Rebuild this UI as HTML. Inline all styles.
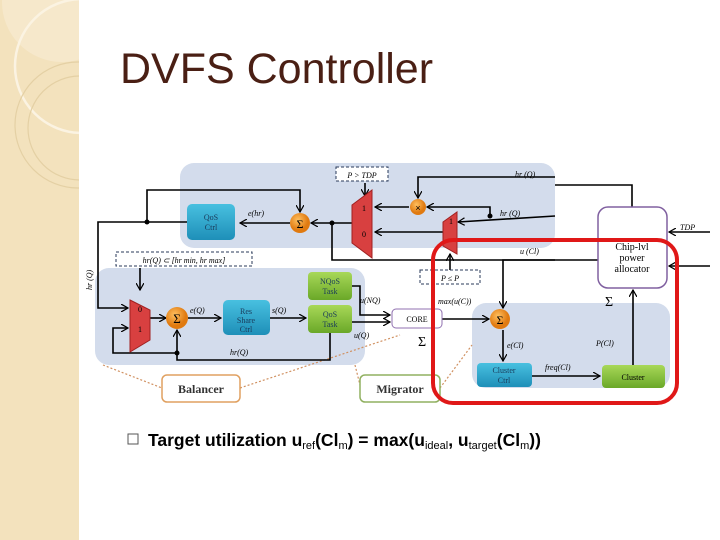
<!DOCTYPE html>
<html><head><meta charset="utf-8"><style>
html,body{margin:0;padding:0;background:#fff;}
#w{position:relative;width:720px;height:540px;overflow:hidden;background:#fff;font-family:"Liberation Sans",sans-serif;}
</style></head><body><div id="w">
<svg width="720" height="540" viewBox="0 0 720 540" xmlns="http://www.w3.org/2000/svg" style="position:absolute;left:0;top:0">
<defs>
<marker id="a" markerWidth="8" markerHeight="8" refX="7" refY="4" orient="auto" markerUnits="userSpaceOnUse"><path d="M0,0 L7,4 L0,8" fill="none" stroke="#000" stroke-width="1.2"/></marker>
<radialGradient id="og" cx="40%" cy="35%"><stop offset="0" stop-color="#ffc060"/><stop offset="1" stop-color="#e07a10"/></radialGradient>
<linearGradient id="bg" x1="0" y1="0" x2="0" y2="1"><stop offset="0" stop-color="#48c0e0"/><stop offset="1" stop-color="#1e8fb8"/></linearGradient>
<linearGradient id="gg" x1="0" y1="0" x2="0" y2="1"><stop offset="0" stop-color="#a8d858"/><stop offset="1" stop-color="#6aa828"/></linearGradient>
<clipPath id="band"><rect x="0" y="0" width="79" height="540"/></clipPath>
</defs>
<!-- left band -->
<rect x="0" y="0" width="79" height="540" fill="#f3e2bd"/>
<g clip-path="url(#band)">
<circle cx="62" cy="2" r="60" fill="#f6e8cb"/>
<circle cx="82" cy="66" r="67" fill="none" stroke="#fbf3e2" stroke-width="2.5"/>
<circle cx="78" cy="125" r="63" fill="none" stroke="#e4d0a4" stroke-width="1.2"/>
<circle cx="80" cy="128" r="52" fill="none" stroke="#e4d0a4" stroke-width="1.2"/>
</g>
<!-- title -->
<text x="120" y="83" font-size="43" fill="#4a1f14" font-family="Liberation Sans, sans-serif">DVFS Controller</text>
<!-- regions -->
<rect x="180" y="163" width="375" height="85" rx="14" fill="#d3dcec"/>
<rect x="95" y="268" width="270" height="97" rx="14" fill="#d3dcec"/>
<rect x="472" y="303" width="198" height="85" rx="14" fill="#d3dcec"/>
<!-- dotted connectors -->
<g stroke="#d09060" stroke-width="1.2" stroke-dasharray="2,2" fill="none">
<line x1="103" y1="365" x2="162" y2="388"/><line x1="240" y1="388" x2="400" y2="335"/>
<line x1="440" y1="388" x2="472" y2="345"/><line x1="355" y1="365" x2="360" y2="385"/>
</g>
<!-- wires -->
<g stroke="#000" stroke-width="1.6" fill="none">
<polyline points="187,222 98,222 98,308 128,308" marker-end="url(#a)"/>
<polyline points="147,222 147,190 300,190 300,212" marker-end="url(#a)"/>
<line x1="290" y1="223" x2="240" y2="223" marker-end="url(#a)"/>
<line x1="352" y1="223" x2="311" y2="223" marker-end="url(#a)"/>
<polyline points="332,223 332,260 555,260"/>
<line x1="365" y1="183" x2="365" y2="196" marker-end="url(#a)"/>
<polyline points="555,177 418,177 418,198" marker-end="url(#a)"/>
<line x1="555" y1="216" x2="458" y2="222" marker-end="url(#a)"/>
<polyline points="490,216 490,207 427,207" marker-end="url(#a)"/>
<polyline points="409,207 375,207" marker-end="url(#a)"/>
<line x1="443" y1="232" x2="375" y2="232" marker-end="url(#a)"/>
<polyline points="632,207 632,185 555,185"/>
<line x1="150" y1="318" x2="166" y2="318" marker-end="url(#a)"/>
<line x1="188" y1="318" x2="221" y2="318" marker-end="url(#a)"/>
<line x1="270" y1="318" x2="306" y2="318" marker-end="url(#a)"/>
<polyline points="330,333 330,360 177,360 177,330" marker-end="url(#a)"/>
<polyline points="177,353 113,353 113,328 128,328" marker-end="url(#a)"/>
<line x1="140" y1="268" x2="140" y2="290" marker-end="url(#a)"/>
<polyline points="352,286 360,286 360,315 390,315" marker-end="url(#a)"/>
<line x1="352" y1="322" x2="390" y2="322" marker-end="url(#a)"/>
<line x1="442" y1="319" x2="489" y2="319" marker-end="url(#a)"/>
<polyline points="598,260 503,260 503,308" marker-end="url(#a)"/>
<line x1="503" y1="330" x2="503" y2="361" marker-end="url(#a)"/>
<line x1="532" y1="376" x2="600" y2="376" marker-end="url(#a)"/>
<line x1="633" y1="365" x2="633" y2="290" marker-end="url(#a)"/>
<line x1="710" y1="232" x2="669" y2="232" marker-end="url(#a)"/>
<line x1="710" y1="266" x2="669" y2="266" marker-end="url(#a)"/>
<line x1="450" y1="270" x2="450" y2="254" marker-end="url(#a)"/>
</g>
<circle cx="147" cy="222" r="2.5"/><circle cx="332" cy="223" r="2.5"/><circle cx="490" cy="216" r="2.5"/><circle cx="177" cy="353" r="2.5"/>
<!-- mux -->
<polygon points="352,205 372,190 372,258 352,243" fill="#d84040" stroke="#a02020"/>
<polygon points="443,222 457,212 457,254 443,246" fill="#d84040" stroke="#a02020"/>
<polygon points="130,300 150,310 150,340 130,352" fill="#d84040" stroke="#a02020"/>
<g font-size="8" font-family="Liberation Serif, serif">
<text x="362" y="211">1</text><text x="362" y="237">0</text><text x="138" y="312">0</text><text x="138" y="332">1</text><text x="449" y="224">1</text>
</g>
<!-- circles -->
<circle cx="300" cy="223" r="10" fill="url(#og)"/><text x="300" y="228" font-size="12" text-anchor="middle" font-family="Liberation Serif,serif">Σ</text>
<circle cx="418" cy="207" r="8" fill="url(#og)"/><text x="418" y="211" font-size="9" text-anchor="middle">×</text>
<circle cx="177" cy="318" r="11" fill="url(#og)"/><text x="177" y="323" font-size="13" text-anchor="middle" font-family="Liberation Serif,serif">Σ</text>
<circle cx="500" cy="319" r="10" fill="url(#og)"/><text x="500" y="324" font-size="12" text-anchor="middle" font-family="Liberation Serif,serif">Σ</text>
<!-- boxes -->
<rect x="187" y="204" width="48" height="36" rx="5" fill="url(#bg)"/>
<rect x="223" y="300" width="47" height="35" rx="5" fill="url(#bg)"/>
<rect x="477" y="363" width="55" height="24" rx="4" fill="url(#bg)"/>
<rect x="308" y="272" width="44" height="28" rx="4" fill="url(#gg)"/>
<rect x="308" y="305" width="44" height="28" rx="4" fill="url(#gg)"/>
<rect x="602" y="365" width="63" height="23" rx="4" fill="url(#gg)"/>
<rect x="392" y="309" width="50" height="19" rx="4" fill="#fff" stroke="#9070b0"/>
<rect x="598" y="207" width="69" height="81" rx="10" fill="#fff" stroke="#8060a0" stroke-width="1.5"/>
<rect x="162" y="375" width="78" height="27" rx="5" fill="#fff" stroke="#e0a060" stroke-width="1.5"/>
<rect x="360" y="375" width="80" height="27" rx="5" fill="#fff" stroke="#90b060" stroke-width="1.5"/>
<g stroke="#2a3a5a" stroke-dasharray="3,2" fill="#fff">
<rect x="336" y="167" width="52" height="14"/><rect x="116" y="252" width="136" height="14"/><rect x="420" y="270" width="60" height="14"/>
</g>
<!-- red box -->
<rect x="433" y="240" width="244" height="163" rx="20" fill="none" stroke="#e01818" stroke-width="4"/>
<!-- labels -->
<g font-family="Liberation Serif, serif" font-size="8" text-anchor="middle" fill="#1a3a5a">
<text x="211" y="220">QoS</text><text x="211" y="230">Ctrl</text>
<text x="246" y="314">Res</text><text x="246" y="323">Share</text><text x="246" y="332">Ctrl</text>
<text x="330" y="284">NQoS</text><text x="330" y="294">Task</text>
<text x="330" y="317">QoS</text><text x="330" y="327">Task</text>
<text x="504" y="373">Cluster</text><text x="504" y="383">Ctrl</text>
<text x="633" y="380" fill="#000">Cluster</text>
<text x="417" y="322" fill="#000">CORE</text>
<text x="632" y="250" fill="#000" font-size="10">Chip-lvl</text><text x="632" y="261" fill="#000" font-size="10">power</text><text x="632" y="272" fill="#000" font-size="10">allocator</text>
</g>
<g font-family="Liberation Serif, serif" font-size="12" text-anchor="middle" font-weight="bold" fill="#333">
<text x="201" y="393">Balancer</text><text x="400" y="393">Migrator</text>
</g>
<g font-family="Liberation Serif, serif" font-size="8" font-style="italic" fill="#000">
<text x="362" y="178" text-anchor="middle">P &gt; TDP</text>
<text x="184" y="263" text-anchor="middle">hr(Q) ⊂ [hr min, hr max]</text>
<text x="450" y="281" text-anchor="middle">P ≤ P</text>
<text x="248" y="216">e(hr)</text><text x="515" y="177">hr (Q)</text><text x="500" y="216">hr (Q)</text>
<text x="520" y="254">u (Cl)</text><text x="190" y="313">e(Q)</text><text x="272" y="313">s(Q)</text>
<text x="360" y="303">u(NQ)</text><text x="354" y="338">u(Q)</text><text x="230" y="355">hr(Q)</text>
<text x="438" y="304">max(u(C))</text><text x="507" y="348">e(Cl)</text><text x="596" y="346">P(Cl)</text>
<text x="545" y="370">freq(Cl)</text><text x="680" y="230">TDP</text>
<text x="92" y="290" transform="rotate(-90 92 290)">hr (Q)</text>
</g>
<text x="418" y="346" font-size="14" font-family="Liberation Serif,serif">Σ</text>
<text x="605" y="306" font-size="14" font-family="Liberation Serif,serif">Σ</text>
<!-- bullet -->
<rect x="128" y="434" width="10" height="10" fill="none" stroke="#555" stroke-width="1"/>
<text x="148" y="446" font-size="17.5" font-weight="bold" fill="#000" font-family="Liberation Sans, sans-serif">Target utilization u<tspan font-size="11" font-weight="normal" dy="3">ref</tspan><tspan dy="-3">(Cl</tspan><tspan font-size="11" font-weight="normal" dy="3">m</tspan><tspan dy="-3">) = max(u</tspan><tspan font-size="11" font-weight="normal" dy="3">ideal</tspan><tspan dy="-3">, u</tspan><tspan font-size="11" font-weight="normal" dy="3">target</tspan><tspan dy="-3">(Cl</tspan><tspan font-size="11" font-weight="normal" dy="3">m</tspan><tspan dy="-3">))</tspan></text>
</svg>
</div></body></html>
